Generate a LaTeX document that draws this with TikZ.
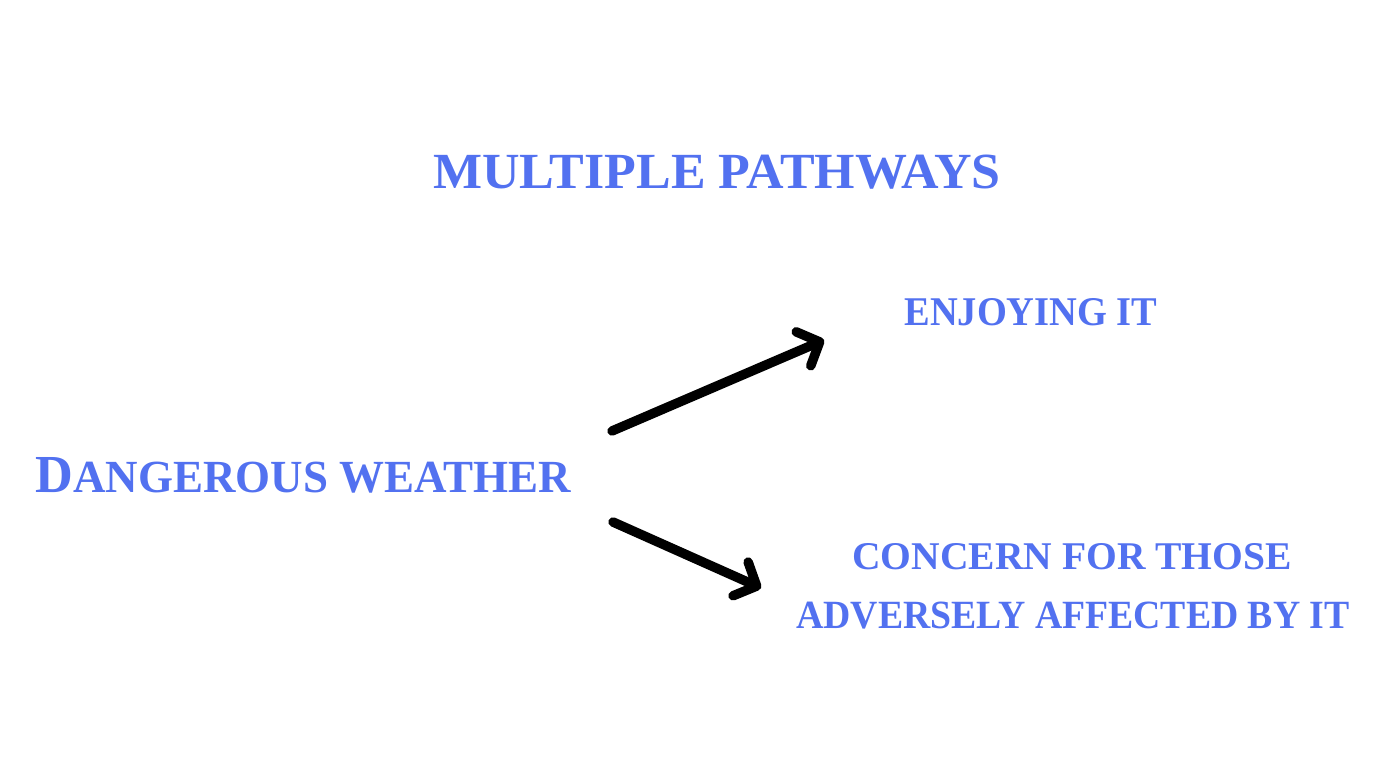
\documentclass[tikz,border=0pt]{standalone}
\usepackage{fontspec}
\setmainfont{Liberation Serif}
\usetikzlibrary{arrows.meta}
\definecolor{lblue}{RGB}{82,113,240}
\tikzset{
  lbl/.style={text=lblue, inner sep=0pt, font=\bfseries},
  arr/.style={line width=2.7pt, line cap=round, line join=round,
    -{Straight Barb[length=5pt,width=10.5pt,line width=2.7pt,round]}}
}
\begin{document}
\begin{tikzpicture}[x=0.01cm,y=-0.01cm]
\useasboundingbox[fill=white] (0,0) rectangle (1398,776);
\node[lbl, anchor=base] (title) at (717,189) {\resizebox{5.67cm}{0.335cm}{MULTIPLE PATHWAYS}};
\node[lbl, anchor=base west] (danger) at (35,492) {\resizebox{5.35cm}{0.35cm}{D{\fontsize{8.6}{10}\selectfont ANGEROUS WEATHER}}};
\node[lbl, anchor=base] (enjoy) at (1031,325) {\resizebox{2.53cm}{0.27cm}{ENJOYING IT}};
\node[lbl, anchor=base] (concern1) at (1072,569) {\resizebox{4.39cm}{0.26cm}{CONCERN FOR THOSE}};
\node[lbl, anchor=base] (concern2) at (1073,628) {\resizebox{5.53cm}{0.265cm}{ADVERSELY AFFECTED BY IT}};
\coordinate (u0) at (612,431);
\coordinate (u1) at (824,340);
\coordinate (l0) at (613,522);
\coordinate (l1) at (761,588);
\draw[arr] (u0) -- (u1);
\draw[arr] (l0) -- (l1);
\end{tikzpicture}
\end{document}
